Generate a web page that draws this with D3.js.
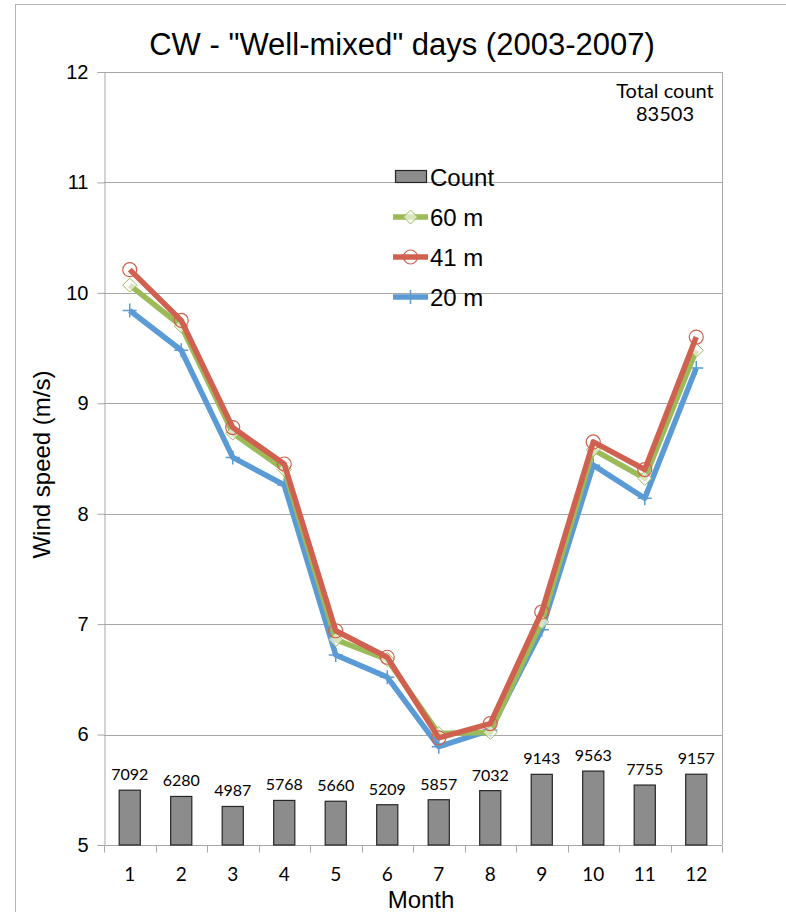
<!DOCTYPE html>
<html>
<head>
<meta charset="utf-8">
<script src="https://cdn.jsdelivr.net/npm/d3@7"></script>
<style>
  html, body { margin: 0; padding: 0; background: #fff; }
  svg { display: block; }
</style>
</head>
<body>
<div id="chart"></div>
<script>
// ---- data ----
const months = [1, 2, 3, 4, 5, 6, 7, 8, 9, 10, 11, 12];
const counts = [7092, 6280, 4987, 5768, 5660, 5209, 5857, 7032, 9143, 9563, 7755, 9157];
const ws60 = [10.07, 9.70, 8.73, 8.40, 6.86, 6.68, 6.01, 6.02, 7.02, 8.58, 8.32, 9.48];
const ws41 = [10.21, 9.75, 8.78, 8.45, 6.94, 6.70, 5.97, 6.10, 7.11, 8.65, 8.40, 9.60];
const ws20 = [9.84, 9.48, 8.51, 8.26, 6.72, 6.52, 5.89, 6.04, 6.95, 8.44, 8.14, 9.32];
const yTicks = [5, 6, 7, 8, 9, 10, 11, 12];
const seriesNames = ["Count", "60 m", "41 m", "20 m"];
const titleText = 'CW - "Well-mixed" days (2003-2007)';
const yLabel = "Wind speed (m/s)";
const xLabel = "Month";

// ---- layout ----
const W = 786, H = 912;
const L = 104, R = 722, T = 72, B = 845;
const COL = { grid: "#a6a6a6", bar: "#8c8c8c", g: "#9BBB59", r: "#D0604F", b: "#5B9BD5" };

const svg = d3.select("#chart").append("svg").attr("width", W).attr("height", H);

// outer chart frame
svg.append("rect").attr("x", 15.5).attr("y", 4.5).attr("width", W + 20).attr("height", H + 20)
  .attr("fill", "none").attr("stroke", "#b3b3b3").attr("stroke-width", 1);

const x = d3.scaleBand().domain(months).range([L, R]).padding(0);
const y = d3.scaleLinear().domain([5, 12]).range([B, T]);
const yc = d3.scaleLinear().domain([0, 100000]).range([B, T]);

// gridlines
svg.append("g").selectAll("line").data(yTicks.filter(v => v > 5)).join("line")
  .attr("x1", L).attr("x2", R)
  .attr("y1", d => Math.round(y(d)) + 0.5).attr("y2", d => Math.round(y(d)) + 0.5)
  .attr("stroke", COL.grid).attr("stroke-width", 1);

// y axis
const yAxis = d3.axisLeft(y).tickValues(yTicks).tickSize(7).tickPadding(9).tickFormat(d3.format("d"));
const gy = svg.append("g").attr("transform", `translate(${L + 0.5},0)`).call(yAxis);
gy.select(".domain").attr("stroke", COL.grid);
gy.selectAll(".tick line").attr("stroke", COL.grid);
gy.selectAll(".tick text").attr("font-family", "Liberation Sans, Arial, sans-serif")
  .attr("font-size", 20).attr("fill", "#000");

// right plot border
svg.append("line").attr("x1", R + 0.5).attr("x2", R + 0.5).attr("y1", T).attr("y2", B)
  .attr("stroke", COL.grid);

// x axis (ticks between categories)
const gx = svg.append("g").attr("transform", `translate(0,${B + 0.5})`);
gx.append("line").attr("x1", L).attr("x2", R).attr("stroke", COL.grid);
const bounds = months.map(m => x(m)).concat([R]);
gx.selectAll("line.tk").data(bounds).join("line").attr("class", "tk")
  .attr("x1", d => Math.round(d) + 0.5).attr("x2", d => Math.round(d) + 0.5)
  .attr("y1", 0).attr("y2", 7).attr("stroke", COL.grid);
gx.selectAll("text").data(months).join("text")
  .attr("x", d => x(d) + x.bandwidth() / 2).attr("y", 35)
  .attr("text-anchor", "middle").attr("font-family", "Lato, 'Open Sans', sans-serif")
  .attr("font-size", 19).attr("fill", "#000").text(d => d);

// bars
const bw = x.bandwidth() * 0.41;
svg.append("g").selectAll("rect").data(counts).join("rect")
  .attr("x", (d, i) => x(months[i]) + x.bandwidth() / 2 - bw / 2)
  .attr("y", d => yc(d)).attr("width", bw).attr("height", d => B - yc(d))
  .attr("fill", COL.bar).attr("stroke", "#262626").attr("stroke-width", 1.2);
svg.append("g").selectAll("text").data(counts).join("text")
  .attr("x", (d, i) => x(months[i]) + x.bandwidth() / 2)
  .attr("y", d => yc(d) - 10)
  .attr("text-anchor", "middle").attr("font-family", "Lato, 'Open Sans', sans-serif")
  .attr("font-size", 16).attr("fill", "#000").text(d => d);

// lines
const cx = i => x(months[i]) + x.bandwidth() / 2;
const lineGen = d3.line().x((d, i) => cx(i)).y(d => y(d));

function diamond(g, s, color) {
  g.append("path").attr("d", `M0,${-s}L${s},0L0,${s}L${-s},0Z`)
    .attr("fill", "#fff").attr("fill-opacity", 0.6).attr("stroke", color).attr("stroke-width", 1);
}
function circle(g, r, color) {
  g.append("circle").attr("r", r).attr("fill", "none").attr("stroke", color).attr("stroke-width", 1.2);
}
function plus(g, s, color) {
  g.append("path").attr("d", `M${-s},0H${s}M0,${-s}V${s}`).attr("stroke", color).attr("stroke-width", 1.5);
}

const series = [
  { vals: ws20, color: COL.b, marker: plus, ms: 7 },
  { vals: ws60, color: COL.g, marker: diamond, ms: 7 },
  { vals: ws41, color: COL.r, marker: circle, ms: 7 }
];
series.forEach(s => {
  svg.append("path").datum(s.vals).attr("d", lineGen)
    .attr("fill", "none").attr("stroke", s.color).attr("stroke-width", 5.5)
    .attr("stroke-linejoin", "round");
  s.vals.forEach((v, i) => {
    const g = svg.append("g").attr("transform", `translate(${cx(i)},${y(v)})`);
    s.marker(g, s.ms, s.color);
  });
});

// legend
const lg = svg.append("g");
const lx0 = 393, lx1 = 428, ly = [177, 217, 257, 297];
lg.append("rect").attr("x", 395.5).attr("y", 170.5).attr("width", 31).attr("height", 12)
  .attr("fill", COL.bar).attr("stroke", "#262626").attr("stroke-width", 1.2);
const legLines = [
  { color: COL.g, marker: diamond },
  { color: COL.r, marker: circle },
  { color: COL.b, marker: plus }
];
legLines.forEach((s, k) => {
  const yy = ly[k + 1];
  lg.append("line").attr("x1", lx0).attr("x2", lx1).attr("y1", yy).attr("y2", yy)
    .attr("stroke", s.color).attr("stroke-width", 5.5);
  const g = lg.append("g").attr("transform", `translate(${(lx0 + lx1) / 2},${yy})`);
  s.marker(g, 7, s.color);
});
lg.selectAll("text").data(seriesNames).join("text")
  .attr("x", 430).attr("y", (d, i) => ly[i] + 9)
  .attr("font-family", "Liberation Sans, Arial, sans-serif").attr("font-size", 24)
  .attr("fill", "#000").text(d => d);

// total count
const total = d3.sum(counts);
const tc = svg.append("g").attr("font-family", "Lato, 'Open Sans', sans-serif")
  .attr("font-size", 20).attr("fill", "#000").attr("text-anchor", "middle");
tc.append("text").attr("x", 665).attr("y", 98).text("Total count");
tc.append("text").attr("x", 665).attr("y", 121).text(total);

// title
svg.append("text").attr("x", 402).attr("y", 55).attr("text-anchor", "middle")
  .attr("font-family", "Liberation Sans, Arial, sans-serif").attr("font-size", 31)
  .attr("fill", "#000").text(titleText);

// axis titles
svg.append("text").attr("transform", `translate(50,${(T + B) / 2 + 6}) rotate(-90)`)
  .attr("text-anchor", "middle").attr("font-family", "Liberation Sans, Arial, sans-serif")
  .attr("font-size", 24).attr("fill", "#000").text(yLabel);
svg.append("text").attr("x", 421).attr("y", 908).attr("text-anchor", "middle")
  .attr("font-family", "Liberation Sans, Arial, sans-serif").attr("font-size", 24)
  .attr("fill", "#000").text(xLabel);
</script>
</body>
</html>
